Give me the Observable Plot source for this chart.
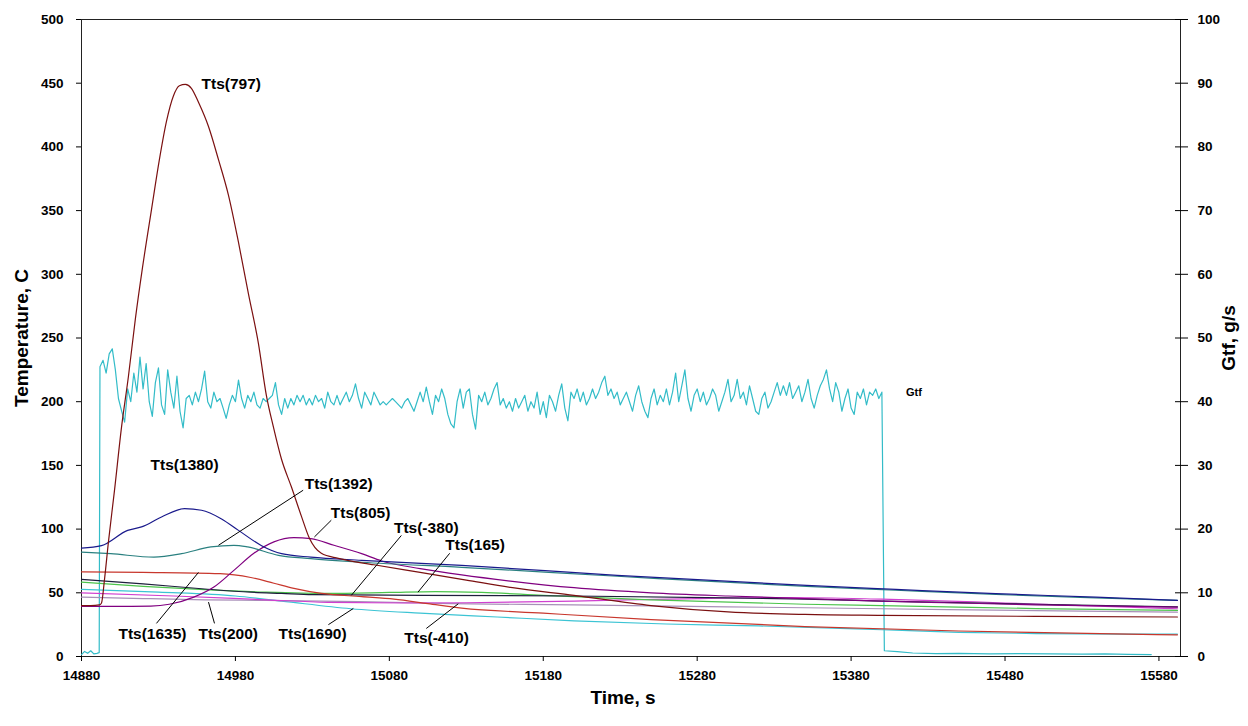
<!DOCTYPE html>
<html>
<head>
<meta charset="utf-8">
<script src="https://cdn.jsdelivr.net/npm/d3@7"></script>
<script src="https://cdn.jsdelivr.net/npm/@observablehq/plot@0.6"></script>
<style>
  body { margin: 0; background: #fff; }
  #chart svg { display: block; }
</style>
</head>
<body>
<div id="chart"></div>
<script>
// Axis ticks
const timeTicks = [14880, 14980, 15080, 15180, 15280, 15380, 15480, 15580];
const tempTicks = [0, 50, 100, 150, 200, 250, 300, 350, 400, 450, 500];
const gtfTicks = [0, 10, 20, 30, 40, 50, 60, 70, 80, 90, 100];

// Thermocouple temperatures, C (time in s)
const t797 = [14880, 14886, 14891.7, 14893, 14894.9, 14897.5, 14901.4, 14906, 14910.5, 14915, 14919.6, 14925.5, 14930.6, 14935.2, 14939.7, 14943.6, 14947.5, 14951.4, 14956, 14962.5, 14969, 14975.5, 14982, 14988.4, 14994.9, 15000.1, 15004.7, 15009.9, 15016.4, 15022.9, 15028, 15035.8, 15046.9, 15070, 15100, 15130, 15160, 15200, 15250, 15300, 15350, 15400, 15500, 15592];
const v797 = [40, 40, 40.5, 42, 60, 90, 130, 180, 220, 265, 305, 351, 390, 420, 440, 448, 449, 446, 435, 416, 390, 362, 325, 285, 246, 205, 180, 155, 133, 110, 93, 81, 77, 72, 66, 60, 54, 48, 40, 35, 33, 32.3, 31.5, 31];

const t1380 = [14880, 14893, 14910, 14919, 14932, 14947, 14958, 14971, 14982, 14997, 15010, 15029, 15062, 15127, 15228, 15351, 15409, 15474, 15539, 15592];
const v1380 = [85, 87, 99, 101.7, 109.5, 116, 114.8, 108, 99, 87, 80.7, 78, 75.5, 71.5, 63.7, 55.8, 52.7, 49.3, 46.6, 44];

const t1392 = [14880, 14899, 14927, 14945, 14964, 14979, 14988, 15008, 15029, 15062, 15127, 15228, 15351, 15409, 15474, 15539, 15592];
const v1392 = [82, 80.7, 78, 80.7, 86, 87.3, 86, 79.4, 76.8, 74, 70, 63, 55, 52, 48.7, 46, 44];

const t805 = [14880, 14900, 14925, 14937, 14953, 14966, 14979, 14992, 15005, 15018, 15029, 15044, 15062, 15075, 15100, 15127, 15160, 15200, 15250, 15300, 15350, 15400, 15450, 15500, 15592];
const v805 = [39.3, 39.3, 39.6, 41, 46.6, 54.5, 67.6, 81, 90, 93.3, 92.5, 87.3, 80.7, 75, 69, 64, 59, 54, 50, 47.5, 45.5, 43.5, 42, 40.5, 38.8];

const tM380 = [14880, 14920, 14960, 14990, 15010, 15030, 15100, 15200, 15300, 15350, 15400, 15500, 15592];
const vM380 = [60.5, 57, 53, 50.5, 49.5, 48.5, 48, 47.5, 46, 45, 43.5, 41, 39];

const t165 = [14880, 14920, 14960, 15000, 15040, 15080, 15110, 15140, 15180, 15250, 15350, 15400, 15450, 15500, 15592];
const v165 = [58.4, 55, 52.5, 50.5, 49.5, 50.3, 51, 50.3, 48, 44.5, 41, 40, 38.8, 37.6, 36.2];

const t200 = [14880, 14920, 14960, 15000, 15060, 15120, 15200, 15300, 15400, 15500, 15592];
const v200 = [46.6, 45.5, 44.5, 44, 43, 41.5, 40.5, 39, 37.5, 36, 34.8];

const tM410 = [14880, 14940, 15000, 15040, 15090, 15130, 15200, 15280, 15340, 15400, 15480, 15540, 15592];
const vM410 = [50, 47.5, 44.5, 42.5, 42, 42.2, 43.5, 45.5, 46.3, 45, 42, 39.5, 37.5];

const t1690 = [14880, 14930, 14980, 15010, 15055, 15100, 15150, 15200, 15260, 15320, 15400, 15450, 15500, 15592];
const v1690 = [52.7, 50.5, 47.5, 43.5, 37.5, 34, 31, 28, 25.5, 24, 21, 19, 18, 17.5];

const t1635 = [14880, 14920, 14970, 14990, 15005, 15018, 15036, 15062, 15083, 15105, 15127, 15180, 15250, 15350, 15450, 15592];
const v1635 = [66.5, 66, 65, 62, 57.5, 53.5, 49.5, 47, 45, 41.5, 38, 34, 29, 23.5, 20, 17];

// Flow rate Gtf, g/s
const gtfPreTime = [14880, 14882, 14884, 14886, 14888, 14890, 14891.5];
const gtfPre = [0.3, 0.8, 0.5, 0.9, 0.4, 0.5, 0.6];
const gtfMainStart = 14892; // sampled every 2 s
const gtfMain = [
  45.5, 46.5, 44.5, 47.5, 48.3, 45, 40.5, 38.6, 36.8, 42,
  40, 44.5, 41.5, 47, 42, 46, 40, 37.7, 43, 45.3,
  39.5, 38, 45, 41.5, 39, 44, 38.5, 35.9, 40.5, 41,
  39.5, 41.5, 40, 42, 44.8, 40, 39, 41.5, 40, 40.5,
  39, 37.4, 39.5, 41, 40, 43.4, 40.5, 39, 41, 40,
  41.5, 39.5, 39, 40.5, 40, 40.5, 41, 43, 39.5, 38,
  40.5, 39, 40.5, 39.5, 41, 40, 41, 39.5, 40.5, 39.5,
  41, 40, 40.5, 39, 41.5, 40, 39.5, 41, 39.5, 40.5,
  41.5, 40, 41, 42.8, 40.5, 39, 41.5, 40.5, 39.5, 41.5,
  40.5, 39.5, 40, 39.5, 40, 40.5, 40, 39.5, 39, 40,
  40.5, 39.5, 38.5, 40, 41.5, 40, 42.3, 40, 38, 41,
  40, 42, 40.5, 38, 36.5, 35.9, 40, 42, 39, 41.5,
  42, 38, 35.7, 41, 40, 41.5, 39.5, 40.5, 42, 43,
  39.5, 40.5, 39, 40, 38.5, 40.5, 39, 40, 41, 38.5,
  40, 39, 41.5, 38, 40, 37.5, 41, 40, 38.5, 41,
  42.8, 39, 37, 41.5, 40.5, 42, 40, 41.5, 39.5, 40.5,
  42, 40.5, 41.5, 43, 44, 41, 42, 40.5, 41.5, 39.5,
  40.5, 41.5, 40, 38.5, 41, 42.5, 40, 38.5, 37.5, 40.5,
  42, 39.5, 41, 40, 42, 39.5, 41.5, 44.5, 40, 42.5,
  45, 40.5, 38.5, 41, 42, 40, 41.5, 39.5, 40.5, 42,
  41, 38.5, 40, 41.5, 43.5, 40, 41, 43.5, 40.5, 41.5,
  39.5, 42.5, 40.5, 38.5, 38, 40.5, 41.5, 39, 40, 41.5,
  43, 41, 42.5, 41, 43, 40.5, 41.5, 42.5, 40, 41.5,
  43.5, 40.5, 39, 41, 42.5, 43.5, 45, 42, 40, 43,
  41.5, 38.5, 40.5, 42, 39, 38, 41.5, 40.5, 42, 39.5,
  41.5, 41, 42, 40.5, 41.5
];
const gtfPostTime = [15401.6, 15410, 15420, 15435, 15450, 15470, 15490, 15510, 15530, 15545, 15560, 15575];
const gtfPost = [0.9, 0.75, 0.55, 0.45, 0.5, 0.42, 0.45, 0.4, 0.38, 0.42, 0.32, 0.3];

// Series labels (position in time / temperature units) and their leader lines
const labels = [
  {text: "Tts(797)", t: 14958, v: 449.5, anchor: "start"},
  {text: "Tts(1380)", t: 14947, v: 150, anchor: "middle"},
  {text: "Tts(1392)", t: 15025, v: 135, anchor: "start"},
  {text: "Tts(805)", t: 15042, v: 112.4, anchor: "start"},
  {text: "Tts(-380)", t: 15083, v: 100.6, anchor: "start"},
  {text: "Tts(165)", t: 15116.4, v: 87.3, anchor: "start"},
  {text: "Tts(1635)", t: 14904, v: 18, anchor: "start"},
  {text: "Tts(200)", t: 14956, v: 18, anchor: "start"},
  {text: "Tts(1690)", t: 15008, v: 18, anchor: "start"},
  {text: "Tts(-410)", t: 15089.7, v: 14.2, anchor: "start"}
];
const leaders = [
  {t1: 14969, v1: 87.3, t2: 15024, v2: 130.5},
  {t1: 15031.3, v1: 93.8, t2: 15042.3, v2: 107},
  {t1: 15055.3, v1: 48, t2: 15087.8, v2: 95},
  {t1: 15098.6, v1: 50.5, t2: 15119.2, v2: 81},
  {t1: 14928.7, v1: 26, t2: 14956, v2: 66},
  {t1: 14966.4, v1: 26, t2: 14962.5, v2: 42.7},
  {t1: 15040.4, v1: 25, t2: 15056.6, v2: 37.7},
  {t1: 15104, v1: 22, t2: 15124.8, v2: 41.4}
];

const series = [
  {name: "Tts(1690)", t: t1690, v: v1690, color: "#3cc4d4"},
  {name: "Tts(200)", t: t200, v: v200, color: "#a88fb8"},
  {name: "Tts(-410)", t: tM410, v: vM410, color: "#d040d0"},
  {name: "Tts(165)", t: t165, v: v165, color: "#4cc44c"},
  {name: "Tts(-380)", t: tM380, v: vM380, color: "#1e1e3c"},
  {name: "Tts(1635)", t: t1635, v: v1635, color: "#c8372d"},
  {name: "Tts(805)", t: t805, v: v805, color: "#800080"},
  {name: "Tts(1392)", t: t1392, v: v1392, color: "#2a8080"},
  {name: "Tts(1380)", t: t1380, v: v1380, color: "#1a1a8c"},
  {name: "Tts(797)", t: t797, v: v797, color: "#7b1010"}
];

// Gtf is plotted against the right-hand axis: 0–100 g/s spans the same height as 0–500 C
const gtfToTemp = 500 / 100;
const gtfRows = [
  ...gtfPreTime.map((t, i) => ({t, g: gtfPre[i]})),
  ...gtfMain.map((g, i) => ({t: gtfMainStart + 2 * i, g})),
  ...gtfPostTime.map((t, i) => ({t, g: gtfPost[i]}))
];

const font = "'Liberation Sans', Arial, Helvetica, sans-serif";
const labelStyle = {x: "t", y: "v", text: "text", fontSize: 15.5, fontWeight: "bold", fill: "#000"};
const titleStyle = {fontSize: 19, fontWeight: "bold", textAnchor: "middle"};

const chart = Plot.plot({
  width: 1248,
  height: 726,
  marginLeft: 81,
  marginRight: 68,
  marginTop: 19,
  marginBottom: 70,
  style: {fontFamily: font, background: "#fff", color: "#000"},
  x: {domain: [14880, 15594]},
  y: {domain: [0, 500]},
  marks: [
    Plot.frame({stroke: "#222", strokeWidth: 1}),
    // left temperature axis
    Plot.axisY({ticks: tempTicks, tickSize: 5, tickPadding: 13, fontSize: 13.5, fontWeight: "bold", label: null}),
    // right Gtf axis (ticks cross the axis line)
    Plot.axisY({anchor: "right", ticks: tempTicks, tickSize: 7, tickPadding: 10, fontSize: 13.5, fontWeight: "bold", label: null,
      tickFormat: (d) => gtfTicks[tempTicks.indexOf(d)]}),
    Plot.axisY({anchor: "right", ticks: tempTicks, tickSize: -6, tickFormat: () => "", label: null}),
    // time axis
    Plot.axisX({ticks: timeTicks, tickSize: 5, tickPadding: 9, fontSize: 13.5, fontWeight: "bold", label: null, tickFormat: (d) => String(d)}),
    // axis titles
    Plot.text(["Temperature, C"], {...titleStyle, frameAnchor: "left", dx: -60, rotate: -90}),
    Plot.text(["Gtf, g/s"], {...titleStyle, frameAnchor: "right", dx: 48, rotate: -90}),
    Plot.text(["Time, s"], {...titleStyle, frameAnchor: "bottom", dy: 47, dx: -8}),
    // flow rate
    Plot.line(gtfRows, {x: "t", y: (d) => d.g * gtfToTemp, stroke: "#33bcc8", strokeWidth: 1.2}),
    Plot.text([{t: 15415.7, g: 41.5}], {x: "t", y: (d) => d.g * gtfToTemp, text: () => "Gtf", textAnchor: "start", fontSize: 11, fontWeight: "bold"}),
    // temperatures
    ...series.map((s) => Plot.line(s.t.map((t, i) => ({t, v: s.v[i]})), {
      x: "t", y: "v", stroke: s.color, strokeWidth: 1.2, curve: "monotone-x"
    })),
    // annotations
    Plot.link(leaders, {x1: "t1", y1: "v1", x2: "t2", y2: "v2", stroke: "#000", strokeWidth: 1}),
    Plot.text(labels.filter((d) => d.anchor === "start"), {...labelStyle, textAnchor: "start"}),
    Plot.text(labels.filter((d) => d.anchor === "middle"), {...labelStyle, textAnchor: "middle"})
  ]
});

document.getElementById("chart").append(chart);
</script>
</body>
</html>
